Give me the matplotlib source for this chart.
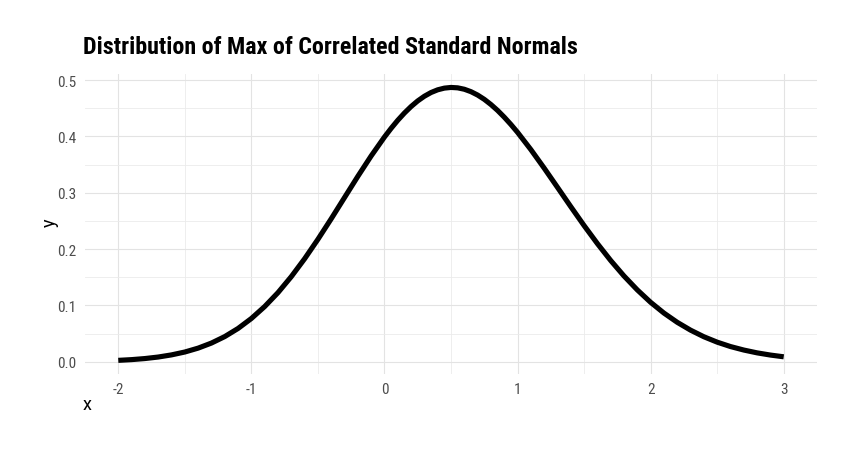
import matplotlib
matplotlib.use("Agg")
import matplotlib.pyplot as plt
from matplotlib.ticker import MultipleLocator

x_vals = [-2.0, -1.9, -1.8, -1.7, -1.6, -1.5, -1.4, -1.3, -1.2, -1.1,
          -1.0, -0.9, -0.8, -0.7, -0.6, -0.5, -0.4, -0.3, -0.2, -0.1,
          0.0, 0.05, 0.1, 0.15, 0.2, 0.25, 0.3, 0.35, 0.4, 0.45, 0.5,
          0.55, 0.6, 0.65, 0.7, 0.75, 0.8, 0.85, 0.9, 0.95,
          1.0, 1.1, 1.2, 1.3, 1.4, 1.5, 1.6, 1.7, 1.8, 1.9,
          2.0, 2.1, 2.2, 2.3, 2.4, 2.5, 2.6, 2.7, 2.8, 2.9, 3.0]
y_vals = [0.0025, 0.0038, 0.0057, 0.0084, 0.0122, 0.0173, 0.0242, 0.0332, 0.0447, 0.0591,
          0.0768, 0.0980, 0.1227, 0.1511, 0.1828, 0.2173, 0.2538, 0.2915, 0.3291, 0.3653,
          0.3989, 0.4143, 0.4286, 0.4415, 0.4530, 0.4630, 0.4713, 0.4779, 0.4827, 0.4857, 0.4869,
          0.4862, 0.4837, 0.4794, 0.4734, 0.4658, 0.4566, 0.4461, 0.4342, 0.4212,
          0.4072, 0.3766, 0.3437, 0.3096, 0.2753, 0.2417, 0.2097, 0.1797, 0.1522, 0.1275,
          0.1055, 0.0864, 0.0700, 0.0561, 0.0444, 0.0348, 0.0270, 0.0208, 0.0158, 0.0119, 0.0088]
x_ticks = [-2, -1, 0, 1, 2, 3]
y_ticks = [0.0, 0.1, 0.2, 0.3, 0.4, 0.5]
title = "Distribution of Max of Correlated Standard Normals"

fam = ["Roboto Condensed", "Roboto", "DejaVu Sans"]
plt.rcParams['font.family'] = fam

fig = plt.figure(figsize=(8.57, 4.56), dpi=100)
W, H = 857, 456
ax = fig.add_axes([85 / W, 1 - 375 / H, (817 - 85) / W, (375 - 74.8) / H])

ax.plot(x_vals, y_vals, color="black", lw=3.7, solid_capstyle="butt",
        solid_joinstyle="round", zorder=3)

xr = max(x_vals) - min(x_vals)
yr = max(y_vals) - min(y_vals)
ax.set_xlim(min(x_vals) - 0.05 * xr, max(x_vals) + 0.05 * xr)
ax.set_ylim(min(y_vals) - 0.05 * yr, max(y_vals) + 0.05 * yr)

ax.set_xticks(x_ticks)
ax.set_yticks(y_ticks)
ax.set_xticklabels([str(t) for t in x_ticks])
ax.set_yticklabels([f"{t:.1f}" for t in y_ticks])
ax.xaxis.set_minor_locator(MultipleLocator(0.5))
ax.yaxis.set_minor_locator(MultipleLocator(0.05))

ax.grid(which="major", color="#e3e3e3", lw=0.8)
ax.grid(which="minor", color="#ebebeb", lw=0.6)
ax.set_axisbelow(True)
for s in ax.spines.values():
    s.set_visible(False)
ax.tick_params(which="both", length=0, labelsize=11, labelcolor="#4d4d4d", pad=6)

fig.text(50 / W, 1 - 223 / H, "y", rotation=90, ha="center", va="center",
         fontsize=13, color="black", family=["Roboto", "DejaVu Sans"])
fig.text(83 / W, 1 - 405 / H, "x", ha="left", va="center", fontsize=13, color="black",
         family=["Roboto", "DejaVu Sans"])
fig.text(83 / W, 1 - 48 / H, title, ha="left", va="center", fontsize=17.3,
         fontweight="bold", color="black")

fig.savefig("out.png", dpi=100, facecolor="white")
